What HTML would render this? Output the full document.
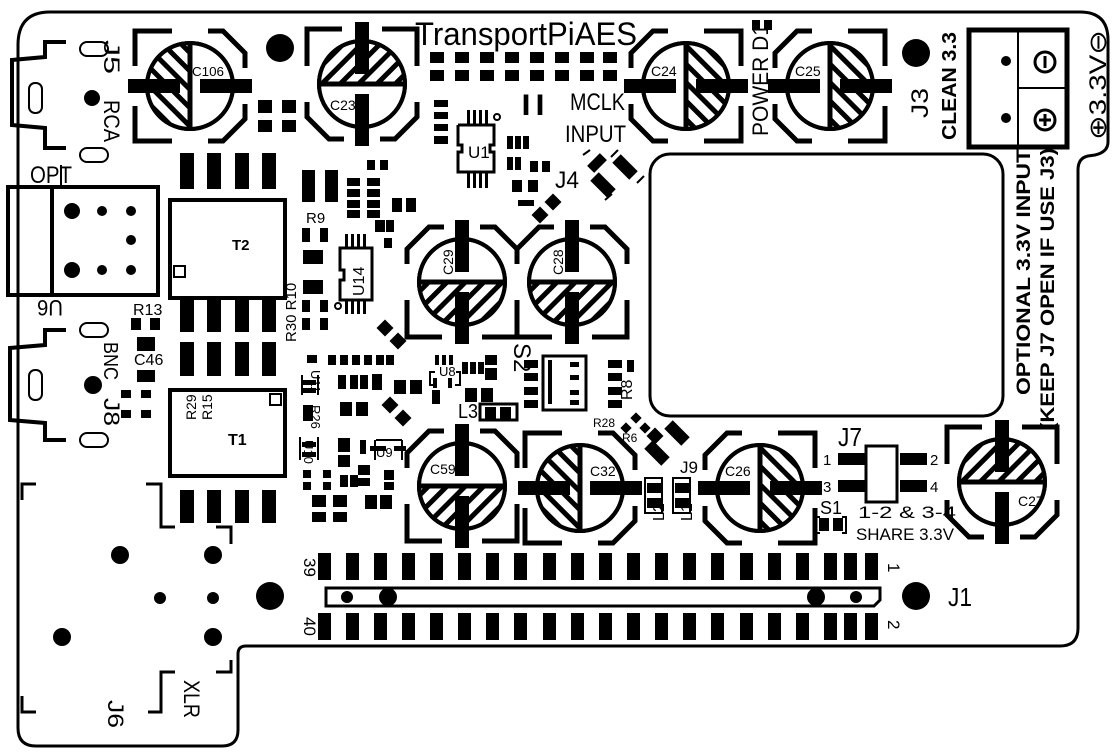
<!DOCTYPE html>
<html><head><meta charset="utf-8"><style>
html,body{margin:0;padding:0;background:#fff}
svg{display:block}
text{font-family:"Liberation Sans",sans-serif;fill:#000}
</style></head><body>
<svg width="1112" height="752" viewBox="0 0 1112 752" xmlns="http://www.w3.org/2000/svg">
<defs>
<pattern id="h" patternUnits="userSpaceOnUse" width="13" height="13" patternTransform="rotate(45)">
<rect x="0" y="0" width="5" height="13" fill="#000"/>
</pattern>
<clipPath id="bh"><rect x="-50" y="0" width="100" height="50"/></clipPath>
<g id="cap">
<path d="M-55,-18 L-55,-33 L-33,-55 L-18,-55 M55,-18 L55,-33 L33,-55 L18,-55 M-55,18 L-55,55 L-20,55 M55,18 L55,55 L20,55" fill="none" stroke="#000" stroke-width="5"/>
<circle r="43" fill="#fff" stroke="#000" stroke-width="4"/>
<circle r="43" fill="url(#h)" clip-path="url(#bh)"/>
<circle r="43" fill="none" stroke="#000" stroke-width="4"/>
<line x1="-43" y1="0" x2="43" y2="0" stroke="#000" stroke-width="5"/>
<rect x="-7" y="-62" width="14" height="52" fill="#000"/>
<rect x="-7" y="10" width="14" height="52" fill="#000"/>
</g>
</defs>

<!-- board outline -->
<path d="M18,45 Q18,12 50,12 L1080,12 Q1108,12 1108,40 L1108,142 Q1108,152 1095,155 L1088,156 Q1078,158 1078,170 L1078,628 Q1078,646 1060,646 L246,646 Q238,646 238,654 L238,730 Q238,746 222,746 L36,746 Q18,746 18,728 Z" fill="none" stroke="#000" stroke-width="3"/>

<!-- J5 RCA outline -->
<path d="M66,42 L45,42 L45,57 L12,60 L12,125 L45,128 L45,148 L66,148" fill="none" stroke="#000" stroke-width="4"/>
<rect x="80" y="42" width="28" height="14" rx="7" fill="none" stroke="#000" stroke-width="2"/>
<rect x="29" y="83" width="13" height="30" rx="6" fill="none" stroke="#000" stroke-width="2"/>
<rect x="80" y="148" width="28" height="14" rx="7" fill="none" stroke="#000" stroke-width="2"/>
<circle cx="92" cy="98" r="8"/>
<text transform="translate(104,40) rotate(90)" font-size="22" textLength="34" lengthAdjust="spacingAndGlyphs">J5</text>
<text transform="translate(104,100) rotate(90)" font-size="22" textLength="42" lengthAdjust="spacingAndGlyphs">RCA</text>

<!-- J8 BNC -->
<path d="M66,330 L45,330 L45,345 L10,348 L10,420 L45,423 L45,440 L66,440" fill="none" stroke="#000" stroke-width="4"/>
<rect x="80" y="323" width="28" height="14" rx="7" fill="none" stroke="#000" stroke-width="2"/>
<rect x="29" y="370" width="13" height="30" rx="6" fill="none" stroke="#000" stroke-width="2"/>
<rect x="80" y="433" width="28" height="14" rx="7" fill="none" stroke="#000" stroke-width="2"/>
<circle cx="93" cy="385" r="9"/>
<text transform="translate(104,342) rotate(90)" font-size="20" textLength="38" lengthAdjust="spacingAndGlyphs">BNC</text>
<text transform="translate(104,398) rotate(90)" font-size="22" textLength="28" lengthAdjust="spacingAndGlyphs">J8</text>

<!-- OPT U6 -->
<text x="30" y="183" font-size="24" textLength="42" lengthAdjust="spacingAndGlyphs">OPT</text>
<path d="M61,165 L61,188" stroke="#000" stroke-width="2"/>
<rect x="8" y="187" width="150" height="108" fill="none" stroke="#000" stroke-width="4"/>
<line x1="52" y1="187" x2="52" y2="295" stroke="#000" stroke-width="4"/>
<circle cx="72" cy="211" r="8"/><circle cx="72" cy="270" r="8"/>
<circle cx="102" cy="211" r="5"/><circle cx="102" cy="270" r="5"/>
<circle cx="131" cy="211" r="5"/><circle cx="131" cy="240" r="5"/><circle cx="131" cy="270" r="5"/>
<text transform="translate(63,300) rotate(180)" font-size="22" textLength="26" lengthAdjust="spacingAndGlyphs">U6</text>

<!-- XLR J6 -->
<path d="M22,500 L22,484 L36,484 M146,484 L161,484 L161,527 L175,527 M216,527 L231,527 L231,544 M231,660 L231,672 L216,672 M175,672 L161,672 L161,698 M161,698 L161,712 L148,712 M22,696 L22,712 L36,712" fill="none" stroke="#000" stroke-width="3"/>
<circle cx="120" cy="555" r="9"/><circle cx="213" cy="555" r="9"/>
<circle cx="160" cy="598" r="6"/><circle cx="213" cy="598" r="6"/>
<circle cx="62" cy="637" r="9"/><circle cx="213" cy="637" r="9"/>
<text transform="translate(184,680) rotate(90)" font-size="22" textLength="38" lengthAdjust="spacingAndGlyphs">XLR</text>
<text transform="translate(108,700) rotate(90)" font-size="22" textLength="28" lengthAdjust="spacingAndGlyphs">J6</text>

<!-- mounting holes -->
<circle cx="280" cy="48" r="14"/><circle cx="916" cy="53" r="14"/>
<circle cx="270" cy="596" r="14"/><circle cx="916" cy="596" r="14"/>

<!-- Title -->
<text x="415" y="45" font-size="32" textLength="222" lengthAdjust="spacingAndGlyphs">TransportPiAES</text>
<text x="519" y="115" font-size="30" textLength="28" lengthAdjust="spacingAndGlyphs">II</text>
<text x="570" y="110" font-size="24" textLength="55" lengthAdjust="spacingAndGlyphs">MCLK</text>
<text x="565" y="142" font-size="24" textLength="61" lengthAdjust="spacingAndGlyphs">INPUT</text>

<!-- title pads -->
<g fill="#000">
<rect x="430" y="52" width="14" height="11"/><rect x="430" y="70" width="14" height="11"/>
<rect x="455" y="52" width="14" height="11"/><rect x="455" y="70" width="14" height="11"/>
<rect x="480" y="52" width="14" height="11"/><rect x="480" y="70" width="14" height="11"/>
<rect x="505" y="52" width="14" height="11"/><rect x="505" y="70" width="14" height="11"/>
<rect x="530" y="52" width="14" height="11"/><rect x="530" y="70" width="14" height="11"/>
<rect x="555" y="52" width="14" height="11"/><rect x="555" y="70" width="14" height="11"/>
<rect x="580" y="52" width="14" height="11"/><rect x="580" y="70" width="14" height="11"/>
<rect x="603" y="52" width="14" height="11"/><rect x="603" y="70" width="14" height="11"/>
<rect x="752" y="20" width="8" height="10"/><rect x="764" y="20" width="8" height="10"/>
<rect x="258" y="100" width="14" height="13"/><rect x="258" y="120" width="14" height="12"/>
<rect x="282" y="100" width="14" height="13"/><rect x="282" y="120" width="14" height="12"/>
<rect x="434" y="100" width="14" height="7"/><rect x="434" y="112" width="14" height="7"/><rect x="434" y="124" width="14" height="7"/><rect x="434" y="136" width="14" height="8"/>
<rect x="467" y="110" width="3" height="16"/><rect x="473" y="110" width="3" height="16"/><rect x="479" y="110" width="3" height="16"/><rect x="485" y="110" width="3" height="16"/>
<rect x="467" y="172" width="3" height="16"/><rect x="473" y="172" width="3" height="16"/><rect x="479" y="172" width="3" height="16"/><rect x="485" y="172" width="3" height="16"/>
<rect x="507" y="136" width="6" height="13"/><rect x="515" y="136" width="6" height="13"/><rect x="523" y="136" width="6" height="13"/>
<rect x="507" y="157" width="6" height="13"/><rect x="515" y="157" width="6" height="13"/>
<rect x="530" y="161" width="8" height="11"/><rect x="542" y="161" width="8" height="11"/>
<rect x="512" y="180" width="10" height="12"/><rect x="528" y="180" width="10" height="12"/>
<rect x="518" y="200" width="16" height="6"/>
<rect x="302" y="170" width="13" height="32"/><rect x="325" y="170" width="13" height="32"/>
<rect x="347" y="178" width="13" height="8"/><rect x="367" y="178" width="13" height="8"/>
<rect x="347" y="189" width="13" height="8"/><rect x="367" y="189" width="13" height="8"/>
<rect x="347" y="200" width="13" height="8"/><rect x="367" y="200" width="13" height="8"/>
<rect x="347" y="210" width="13" height="8"/><rect x="367" y="210" width="13" height="8"/>
<rect x="367" y="160" width="8" height="10"/><rect x="380" y="160" width="8" height="10"/>
<rect x="392" y="198" width="10" height="14"/><rect x="406" y="198" width="10" height="14"/>
<rect x="375" y="220" width="10" height="12"/><rect x="386" y="220" width="8" height="12"/>
<rect x="384" y="238" width="8" height="10"/>
<rect x="302" y="228" width="8" height="14"/><rect x="320" y="228" width="8" height="14"/>
<rect x="303" y="250" width="20" height="14"/><rect x="303" y="280" width="20" height="14"/>
<rect x="302" y="300" width="8" height="12"/><rect x="320" y="300" width="8" height="12"/>
<rect x="302" y="318" width="8" height="12"/><rect x="320" y="318" width="8" height="12"/>
<rect x="345" y="234" width="3" height="14"/><rect x="351" y="234" width="3" height="14"/><rect x="357" y="234" width="3" height="14"/><rect x="363" y="234" width="3" height="14"/>
<rect x="345" y="300" width="3" height="14"/><rect x="351" y="300" width="3" height="14"/><rect x="357" y="300" width="3" height="14"/><rect x="363" y="300" width="3" height="14"/>
<rect x="131" y="318" width="10" height="12"/><rect x="150" y="318" width="10" height="12"/>
<rect x="137" y="337" width="18" height="14"/><rect x="137" y="370" width="18" height="12"/>
<rect x="121" y="390" width="10" height="8"/><rect x="141" y="390" width="10" height="8"/>
<rect x="121" y="410" width="10" height="8"/><rect x="141" y="410" width="10" height="8"/>
<rect x="307" y="355" width="10" height="8"/>
<rect x="328" y="355" width="8" height="10"/><rect x="340" y="355" width="8" height="10"/><rect x="352" y="355" width="8" height="10"/><rect x="364" y="355" width="8" height="10"/><rect x="376" y="355" width="8" height="10"/><rect x="386" y="355" width="8" height="10"/>
<rect x="338" y="375" width="8" height="14"/><rect x="350" y="375" width="8" height="14"/><rect x="360" y="375" width="8" height="14"/>
<rect x="372" y="374" width="10" height="16"/>
<rect x="340" y="402" width="12" height="14"/><rect x="356" y="402" width="12" height="14"/>
<rect x="394" y="380" width="12" height="14"/><rect x="410" y="380" width="12" height="14"/>
<rect x="302" y="380" width="14" height="5"/><rect x="302" y="388" width="14" height="5"/>
<rect x="303" y="405" width="10" height="16"/>
<rect x="302" y="442" width="14" height="5"/><rect x="302" y="452" width="14" height="5"/>
<rect x="303" y="470" width="8" height="8"/><rect x="303" y="482" width="8" height="8"/>
<rect x="323" y="470" width="8" height="8"/><rect x="323" y="482" width="8" height="8"/>
<rect x="312" y="495" width="14" height="12"/><rect x="312" y="512" width="14" height="10"/>
<rect x="333" y="495" width="14" height="12"/><rect x="333" y="512" width="14" height="10"/>
<rect x="338" y="438" width="12" height="14"/><rect x="338" y="455" width="12" height="12"/>
<rect x="360" y="440" width="6" height="14"/>
<rect x="358" y="465" width="12" height="10"/><rect x="358" y="478" width="12" height="8"/>
<rect x="340" y="475" width="8" height="12"/><rect x="350" y="475" width="8" height="12"/>
<rect x="365" y="495" width="12" height="14"/><rect x="380" y="495" width="12" height="14"/>
<rect x="384" y="470" width="10" height="10"/><rect x="384" y="482" width="10" height="8"/>
<rect x="370" y="446" width="16" height="5"/><rect x="394" y="446" width="12" height="5"/>
<rect x="435" y="355" width="4" height="10"/><rect x="442" y="355" width="4" height="10"/><rect x="449" y="355" width="4" height="10"/>
<rect x="433" y="378" width="4" height="10"/><rect x="448" y="378" width="4" height="10"/>
<rect x="462" y="362" width="6" height="12"/><rect x="470" y="362" width="6" height="12"/><rect x="478" y="362" width="6" height="12"/>
<rect x="485" y="355" width="12" height="10"/><rect x="485" y="368" width="12" height="12"/>
<rect x="432" y="390" width="8" height="14"/>
<rect x="465" y="388" width="12" height="14"/><rect x="481" y="388" width="12" height="14"/>
<rect x="485" y="407" width="11" height="14"/><rect x="500" y="407" width="11" height="14"/>
<rect x="524" y="360" width="14" height="8"/><rect x="524" y="373" width="14" height="8"/><rect x="524" y="387" width="14" height="8"/><rect x="524" y="400" width="14" height="8"/>
<rect x="608" y="360" width="14" height="8"/><rect x="608" y="373" width="14" height="8"/><rect x="608" y="387" width="14" height="8"/><rect x="608" y="400" width="14" height="8"/>
<rect x="627" y="360" width="7" height="12"/>
<rect x="647" y="483" width="14" height="10"/><rect x="647" y="498" width="14" height="10"/>
<rect x="675" y="483" width="14" height="10"/><rect x="675" y="498" width="14" height="10"/>
<rect x="838" y="453" width="27" height="12"/><rect x="838" y="480" width="27" height="12"/>
<rect x="900" y="453" width="27" height="12"/><rect x="900" y="480" width="27" height="12"/>
<rect x="819" y="518" width="10" height="13"/><rect x="833" y="518" width="10" height="13"/>
<rect x="180" y="153" width="14" height="36"/><rect x="207" y="153" width="14" height="36"/><rect x="235" y="153" width="14" height="36"/><rect x="262" y="153" width="14" height="36"/>
<rect x="180" y="298" width="14" height="34"/><rect x="207" y="298" width="14" height="34"/><rect x="235" y="298" width="14" height="34"/><rect x="262" y="298" width="14" height="34"/>
<rect x="180" y="342" width="14" height="34"/><rect x="207" y="342" width="14" height="34"/><rect x="235" y="342" width="14" height="34"/><rect x="262" y="342" width="14" height="34"/>
<rect x="180" y="490" width="14" height="33"/><rect x="207" y="490" width="14" height="33"/><rect x="235" y="490" width="14" height="33"/><rect x="262" y="490" width="14" height="33"/>
</g>
<g fill="#000">
<rect x="-9" y="-5" width="18" height="10" transform="translate(597,163) rotate(-45)"/>
<rect x="-12" y="-6" width="24" height="12" transform="translate(625,167) rotate(45)"/>
<rect x="-12" y="-6" width="24" height="12" transform="translate(603,185) rotate(45)"/>
<rect x="-6" y="-6" width="12" height="12" transform="translate(540,215) rotate(45)"/>
<rect x="-6" y="-6" width="12" height="12" transform="translate(553,202) rotate(45)"/>
<rect x="-6" y="-6" width="12" height="12" transform="translate(385,328) rotate(45)"/>
<rect x="-6" y="-6" width="12" height="12" transform="translate(398,341) rotate(45)"/>
<rect x="-6" y="-6" width="12" height="12" transform="translate(390,405) rotate(45)"/>
<rect x="-6" y="-6" width="12" height="12" transform="translate(403,418) rotate(45)"/>
<rect x="-4" y="-4" width="8" height="8" transform="translate(626,428) rotate(45)"/>
<rect x="-4" y="-4" width="8" height="8" transform="translate(636,418) rotate(45)"/>
<rect x="-4" y="-4" width="8" height="8" transform="translate(645,428) rotate(45)"/>
<rect x="-6" y="-6" width="12" height="12" transform="translate(655,436) rotate(45)"/>
<rect x="-12" y="-6" width="24" height="12" transform="translate(677,433) rotate(45)"/>
<rect x="-12" y="-6" width="24" height="12" transform="translate(657,453) rotate(45)"/>
</g>
<path d="M590,150 L583,155 M618,150 L611,157 M644,176 L637,183 M605,200 L612,194" stroke="#000" stroke-width="2"/>

<g fill="none" stroke="#000" stroke-width="3">
<path d="M458,125 L458,145 L462,145 L462,152 L458,152 L458,172 L494,172 L494,152 L490,152 L490,145 L494,145 L494,125 L458,125"/>
<circle cx="497" cy="117" r="3" stroke-width="2"/>
<path d="M340,248 L372,248 L372,300 L340,300 L340,280 L344,280 L344,270 L340,270 Z"/>
<circle cx="338" cy="306" r="3" stroke-width="2"/>
<rect x="170" y="200" width="115" height="98" stroke-width="4"/>
<rect x="174" y="266" width="11" height="11" stroke-width="2"/>
<rect x="170" y="390" width="115" height="86" stroke-width="4"/>
<rect x="270" y="394" width="11" height="11" stroke-width="2"/>
<rect x="543" y="356" width="43" height="54" stroke-width="3"/>
<rect x="480" y="404" width="37" height="16" stroke-width="3"/>
<rect x="645" y="478" width="17" height="35" stroke-width="2"/>
<rect x="673" y="478" width="17" height="35" stroke-width="2"/>
<rect x="866" y="446" width="31" height="56" stroke-width="3"/>
<path d="M820,517 L816,517 L816,533 L820,533 M842,517 L846,517 L846,533 L842,533" stroke-width="2"/>
<path d="M435,372 L430,372 L430,385 L437,385 M456,372 L460,372 L460,385 L455,385" stroke-width="2"/>
<path d="M302,375 L302,395 M318,375 L318,395 M300,437 L300,460 M318,437 L318,460 M375,440 L375,460 M402,440 L402,460 M376,440 L402,440" stroke-width="2"/>
<rect x="650" y="154" width="353" height="262" rx="20" stroke-width="3"/>
</g>
<g fill="#000">
<rect x="548" y="360" width="4" height="44"/>
<rect x="570" y="362" width="9" height="5"/><rect x="570" y="375" width="9" height="5"/><rect x="570" y="390" width="9" height="5"/><rect x="570" y="400" width="9" height="5"/>
</g>

<use href="#cap" transform="translate(190,86) rotate(90)"/>
<use href="#cap" transform="translate(362,84) rotate(180)"/>
<use href="#cap" transform="translate(686,86) rotate(-90)"/>
<use href="#cap" transform="translate(830,86) rotate(-90)"/>
<use href="#cap" transform="translate(462,282)"/>
<use href="#cap" transform="translate(572,282)"/>
<use href="#cap" transform="translate(462,486)"/>
<use href="#cap" transform="translate(580,488) rotate(90)"/>
<use href="#cap" transform="translate(760,488) rotate(-90)"/>
<use href="#cap" transform="translate(1002,482) rotate(180)"/>
<g font-size="13">
<text x="192" y="76" textLength="32" lengthAdjust="spacingAndGlyphs">C106</text>
<text x="330" y="110" font-size="14">C23</text>
<text x="651" y="76" font-size="14">C24</text>
<text x="795" y="76" font-size="14">C25</text>
<text transform="translate(453,275) rotate(-90)" font-size="14">C29</text>
<text transform="translate(563,275) rotate(-90)" font-size="14">C28</text>
<text x="430" y="474" font-size="14">C59</text>
<text x="590" y="476" font-size="14">C32</text>
<text x="725" y="476" font-size="14">C26</text>
<text x="1018" y="506" font-size="14">C27</text>
</g>

<rect x="969" y="30" width="98" height="117" fill="none" stroke="#000" stroke-width="5"/>
<path d="M1018,30 L1018,147 M1018,88 L1067,88" stroke="#000" stroke-width="2"/>
<circle cx="1006" cy="61" r="5"/><circle cx="1006" cy="118" r="5"/>
<circle cx="1045" cy="62" r="10" fill="none" stroke="#000" stroke-width="3"/>
<line x1="1045" y1="56" x2="1045" y2="68" stroke="#000" stroke-width="3"/>
<circle cx="1045" cy="120" r="10" fill="none" stroke="#000" stroke-width="3"/>
<path d="M1039,120 L1051,120 M1045,114 L1045,126" stroke="#000" stroke-width="3"/>
<text transform="translate(928,118) rotate(-90)" font-size="24" textLength="30" lengthAdjust="spacingAndGlyphs">J3</text>
<text transform="translate(956,140) rotate(-90)" font-size="20" font-weight="bold" textLength="108" lengthAdjust="spacingAndGlyphs">CLEAN 3.3</text>
<text transform="translate(1106,140) rotate(-90)" font-size="24" textLength="110" lengthAdjust="spacingAndGlyphs">⊕3.3V⊖</text>
<text transform="translate(768,136) rotate(-90)" font-size="22" textLength="112" lengthAdjust="spacingAndGlyphs">POWER D1</text>
<text transform="translate(1030,395) rotate(-90)" font-size="19" font-weight="bold" textLength="246" lengthAdjust="spacingAndGlyphs">OPTIONAL 3.3V INPUT</text>
<text transform="translate(1054,430) rotate(-90)" font-size="19" font-weight="bold" textLength="282" lengthAdjust="spacingAndGlyphs">(KEEP J7 OPEN IF USE J3)</text>

<g font-size="15">
<text x="468" y="158" font-size="17">U1</text>
<text x="555" y="188" font-size="24" textLength="24" lengthAdjust="spacingAndGlyphs">J4</text>
<text x="306" y="223">R9</text>
<text transform="translate(364,296) rotate(-90)" font-size="16">U14</text>
<text transform="translate(296,342) rotate(-90)" font-size="15">R30 R10</text>
<text x="133" y="315" font-size="16">R13</text>
<text x="134" y="365" font-size="16">C46</text>
<text x="232" y="250" font-weight="bold" font-size="15">T2</text>
<text x="228" y="445" font-weight="bold" font-size="16">T1</text>
<text transform="translate(196,420) rotate(-90)" font-size="14">R29</text>
<text transform="translate(212,420) rotate(-90)" font-size="14">R15</text>
<text transform="translate(514,343) rotate(90)" font-size="24">S2</text>
<text x="439" y="376" font-size="13">U8</text>
<text transform="translate(632,400) rotate(-90)" font-size="16">R8</text>
<text x="593" y="427" font-size="12">R28</text>
<text x="622" y="442" font-size="12">R6</text>
<text x="458" y="418" font-size="20" textLength="20" lengthAdjust="spacingAndGlyphs">L3</text>
<text x="680" y="473" font-size="17">J9</text>
<text transform="translate(664,521) rotate(-90)" font-size="16">L2</text>
<text transform="translate(692,521) rotate(-90)" font-size="16">L1</text>
<text x="838" y="446" font-size="26" textLength="24" lengthAdjust="spacingAndGlyphs">J7</text>
<text x="823" y="465">1</text><text x="823" y="492">3</text>
<text x="930" y="465">2</text><text x="930" y="492">4</text>
<text x="820" y="514" font-size="18">S1</text>
<text x="858" y="518" font-size="17" textLength="98" lengthAdjust="spacingAndGlyphs">1-2 &amp; 3-4</text>
<text x="856" y="540" font-size="17" textLength="98" lengthAdjust="spacingAndGlyphs">SHARE 3.3V</text>
<text transform="translate(311,370) rotate(90)" font-size="13">U11</text>
<text transform="translate(311,405) rotate(90)" font-size="13">R26</text>
<text transform="translate(304,440) rotate(90)" font-size="13">U10</text>
<text x="376" y="457" font-size="13">U9</text>
</g>

<g fill="#000">
<rect x="318" y="553" width="13" height="27"/><rect x="346" y="553" width="13" height="27"/><rect x="374" y="553" width="13" height="27"/><rect x="402" y="553" width="13" height="27"/><rect x="430" y="553" width="13" height="27"/><rect x="458" y="553" width="13" height="27"/><rect x="486" y="553" width="13" height="27"/><rect x="514" y="553" width="13" height="27"/><rect x="543" y="553" width="13" height="27"/><rect x="571" y="553" width="13" height="27"/><rect x="599" y="553" width="13" height="27"/><rect x="627" y="553" width="13" height="27"/><rect x="655" y="553" width="13" height="27"/><rect x="683" y="553" width="13" height="27"/><rect x="711" y="553" width="13" height="27"/><rect x="740" y="553" width="13" height="27"/><rect x="768" y="553" width="13" height="27"/><rect x="796" y="553" width="13" height="27"/><rect x="824" y="553" width="13" height="27"/><rect x="844" y="553" width="13" height="27"/><rect x="865" y="553" width="13" height="27"/>
<rect x="318" y="613" width="13" height="27"/><rect x="346" y="613" width="13" height="27"/><rect x="374" y="613" width="13" height="27"/><rect x="402" y="613" width="13" height="27"/><rect x="430" y="613" width="13" height="27"/><rect x="458" y="613" width="13" height="27"/><rect x="486" y="613" width="13" height="27"/><rect x="514" y="613" width="13" height="27"/><rect x="543" y="613" width="13" height="27"/><rect x="571" y="613" width="13" height="27"/><rect x="599" y="613" width="13" height="27"/><rect x="627" y="613" width="13" height="27"/><rect x="655" y="613" width="13" height="27"/><rect x="683" y="613" width="13" height="27"/><rect x="711" y="613" width="13" height="27"/><rect x="740" y="613" width="13" height="27"/><rect x="768" y="613" width="13" height="27"/><rect x="796" y="613" width="13" height="27"/><rect x="824" y="613" width="13" height="27"/><rect x="844" y="613" width="13" height="27"/><rect x="865" y="613" width="13" height="27"/>
</g>
<path d="M326,588 L880,588 L880,600 L874,606 L326,606 Z" fill="none" stroke="#000" stroke-width="3"/>
<circle cx="347" cy="597" r="6"/><circle cx="388" cy="597" r="9"/>
<circle cx="816" cy="597" r="9"/><circle cx="856" cy="597" r="6"/>
<text transform="translate(304,558) rotate(90)" font-size="17">39</text>
<text transform="translate(304,617) rotate(90)" font-size="17">40</text>
<text transform="translate(888,563) rotate(90)" font-size="17">1</text>
<text transform="translate(888,620) rotate(90)" font-size="17">2</text>
<text x="948" y="606" font-size="26" textLength="24" lengthAdjust="spacingAndGlyphs">J1</text>
</svg>
</body></html>
